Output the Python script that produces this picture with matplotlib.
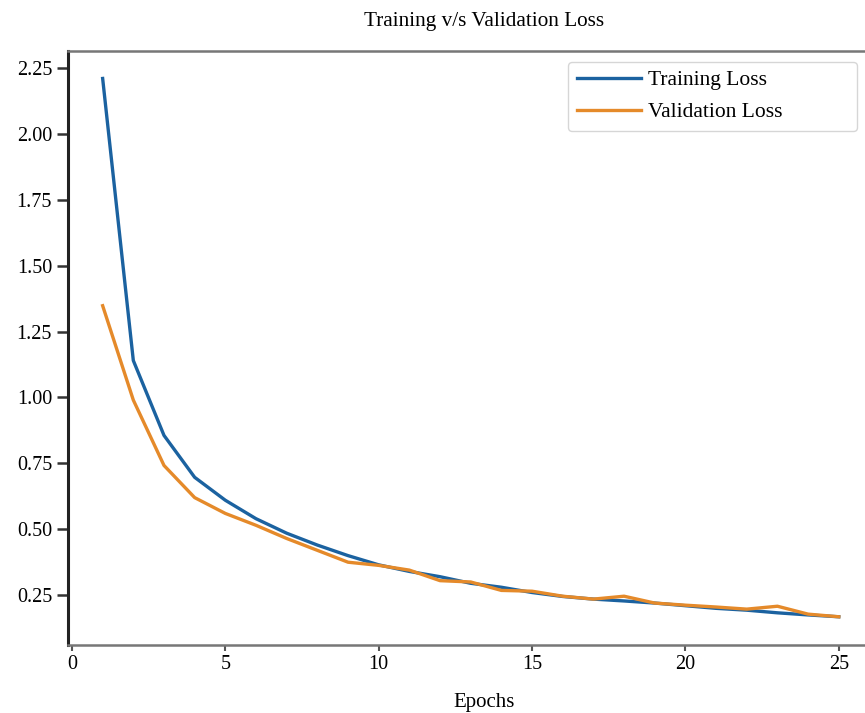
import numpy as np
import matplotlib
matplotlib.use('Agg')
import matplotlib.pyplot as plt

epochs = list(range(1, 26))
train_loss = [2.21, 1.14, 0.856, 0.697, 0.61, 0.54, 0.485, 0.44, 0.40, 0.365,
              0.34, 0.32, 0.295, 0.28, 0.26, 0.245, 0.235, 0.228, 0.22, 0.21,
              0.20, 0.193, 0.183, 0.175, 0.168]
val_loss = [1.348, 0.99, 0.742, 0.62, 0.56, 0.515, 0.465, 0.42, 0.375, 0.363,
            0.345, 0.305, 0.30, 0.268, 0.265, 0.246, 0.235, 0.246, 0.22, 0.212,
            0.205, 0.197, 0.208, 0.178, 0.168]
yticks = [0.25, 0.50, 0.75, 1.00, 1.25, 1.50, 1.75, 2.00, 2.25]
xticks = [0, 5, 10, 15, 20, 25]

plt.rcParams['font.family'] = ['Liberation Serif', 'DejaVu Serif']

fig = plt.figure(figsize=(8.65, 7.13), dpi=100)
ax = fig.add_axes([0.0786, 0.0954, 0.962, 0.833])

ax.plot(epochs, train_loss, color='#1b62a0', lw=2.4, label='Training Loss')
ax.plot(epochs, val_loss, color='#e58a2a', lw=2.4, label='Validation Loss')

ax.set_xlim(-0.13, 27.0)
ax.set_ylim(0.061, 2.314)
ax.set_xticks(xticks)
ax.set_yticks(yticks)
ax.set_yticklabels([f'{v:.2f}' for v in yticks])
ax.tick_params(axis='both', labelsize=14.5, direction='out')
ax.tick_params(axis='y', length=8, width=1.8, color='#333333')
ax.tick_params(axis='x', length=4, width=1.5, color='#555555', pad=3)

for side in ['top', 'bottom']:
    ax.spines[side].set_color('#777777')
    ax.spines[side].set_linewidth(1.8)
ax.spines['left'].set_color('#222222')
ax.spines['left'].set_linewidth(2.2)
ax.spines['right'].set_visible(False)

ax.set_title('Training v/s Validation Loss', fontsize=15.3, pad=18)
ax.set_xlabel('Epochs', fontsize=15, labelpad=14)

# wide legend box like the original
leg_x0 = (568 - 68) / 832
leg_x1 = (857 - 68) / 832
ax.legend(loc='upper left', bbox_to_anchor=(leg_x0, 0.982, leg_x1 - leg_x0, 0.0),
          mode='expand', fontsize=15.5, frameon=True, fancybox=True,
          edgecolor='#cccccc', handlelength=3.0, handletextpad=0.3,
          borderpad=0.4, labelspacing=0.55, borderaxespad=0)

fig.savefig('out.png', dpi=100)
